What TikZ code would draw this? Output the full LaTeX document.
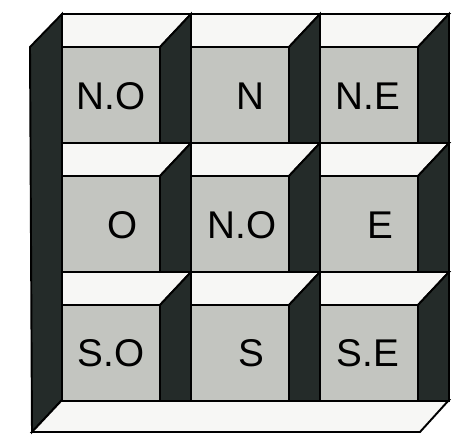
\documentclass[tikz,border=0pt]{standalone}
\usepackage{fontspec}
\setmainfont{Liberation Sans}
\usepackage{xcolor}
\usepackage{tikz}
\usetikzlibrary{positioning,calc}
\definecolor{wallgray}{HTML}{242B29}
\definecolor{backgray}{HTML}{C3C5C0}
\definecolor{floorwhite}{HTML}{F7F7F5}

\begin{document}
\begin{tikzpicture}[x=0.02cm,y=-0.02cm,
  edge/.style={draw=black,line width=1.1pt,line join=miter},
  lbl/.style={font=\fontsize{22}{26}\selectfont,inner sep=0pt}]
  \useasboundingbox (0,0) rectangle (458,435);
  % outer wall and floor
  \filldraw[fill=wallgray,edge] (30,47) -- (62,14) -- (62,400) -- (32,432) -- cycle;
  \filldraw[fill=floorwhite,edge] (62,400) -- (449,400) -- (420,432) -- (32,432) -- cycle;
  % the nine compartments
  \foreach \i in {0,1,2} {
    \foreach \j in {0,1,2} {
      \begin{scope}[shift={(62+129*\i,14+129*\j)}]
        \filldraw[fill=floorwhite,edge] (0,0) -- (129,0) -- (98,33) -- (0,33) -- cycle;
        \filldraw[fill=wallgray,edge] (98,33) -- (129,0) -- (129,129) -- (98,129) -- cycle;
        \filldraw[fill=backgray,edge] (0,33) rectangle (98,129);
      \end{scope}
    }
  }
  % labels
  \foreach \n/\x/\y/\t in {no/111/96/N.O, n/250/96/N, ne/368/96/N.E,
                           o/123/225/O, c/242/225/N.O, e/380/225/E,
                           so/111/353/S.O, s/251/353/S, se/368/353/S.E} {
    \node[lbl] (\n) at (\x,\y) {\t};
  }
\end{tikzpicture}
\end{document}
